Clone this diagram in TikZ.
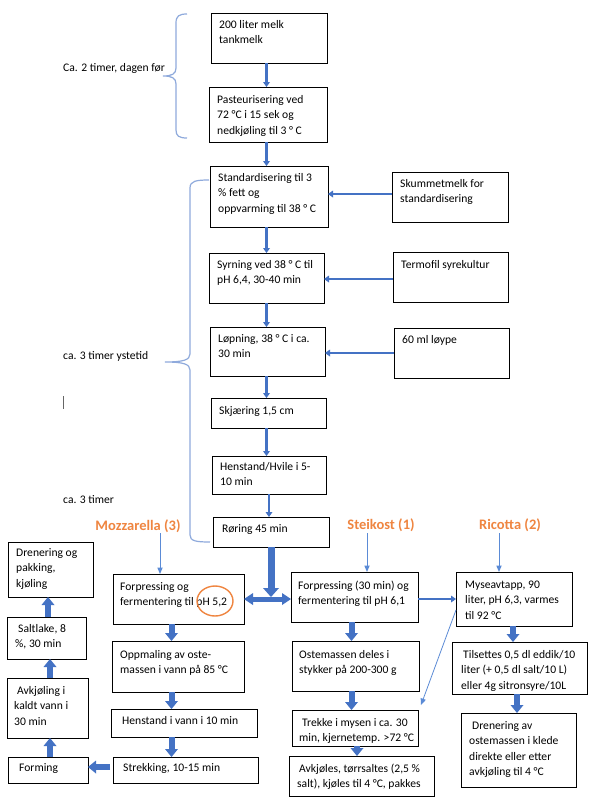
\documentclass[tikz,border=0pt]{standalone}
\usepackage{fontspec}
\setmainfont{Carlito}
\usetikzlibrary{arrows.meta,shapes.geometric}
\definecolor{ablue}{HTML}{4472C4}
\definecolor{lblue}{HTML}{5B8BD6}
\definecolor{bblue}{HTML}{8FAADC}
\definecolor{ormain}{HTML}{EF8540}
\newcommand\flowbox[5]{\node[box,minimum width={#4-#2},minimum height={#5-#3}] (#1) at (#2,#3) {};}
\newcommand\flowtext[4]{\node[txt] (#1) at (#2,{#3-10}) {\rule{0pt}{10pt}#4};}
\begin{document}
\begin{tikzpicture}[x=1pt,y=-1pt,
 box/.style={draw=black,line width=0.75pt,anchor=north west,inner sep=0pt,outer sep=0pt,rectangle},
 txt/.style={anchor=north west,inner sep=0pt,align=left,font=\fontsize{11.6}{15.5}\selectfont},
 sidetxt/.style={anchor=base west,inner sep=0pt,font=\fontsize{11.6}{15.5}\selectfont},
 otxt/.style={anchor=center,inner sep=0pt,text=ormain,font=\fontsize{14.5}{17}\selectfont\bfseries},
 thk/.style={draw=ablue,line width=2.6pt,-{Triangle[width=7pt,length=5pt,line width=0pt]}},
 blk/.style={draw=ablue,line width=6pt,-{Triangle[width=13pt,length=8pt,line width=0pt]}},
 blkbig/.style={draw=ablue,line width=7pt,-{Triangle[width=16pt,length=9pt,line width=0pt]}},
 dbl/.style={draw=ablue,line width=5pt,{Triangle[width=12pt,length=9pt,line width=0pt]}-{Triangle[width=12pt,length=9pt,line width=0pt]}},
 lbl/.style={draw=lblue,line width=0.8pt,-{Triangle[width=5.5pt,length=6.5pt,line width=0pt]}},
 brace/.style={draw=bblue,line width=1.2pt}]
\fill[white] (0,0) rectangle (590,809);
\useasboundingbox (0,0) rectangle (590,809);

% boxes
\flowbox{b1}{211}{13}{327}{63}
\flowbox{b2}{209}{87}{327}{142}
\flowbox{b3}{210}{166}{328}{227}
\flowbox{skum}{392}{172}{508}{222}
\flowbox{b4}{209}{253}{324}{303}
\flowbox{termo}{393}{252}{508}{302}
\flowbox{b5}{210}{327}{325}{376}
\flowbox{loype}{394}{328}{509}{378}
\flowbox{b6}{211}{398}{326}{428}
\flowbox{b7}{212}{456}{326}{494}
\flowbox{b8}{213}{517}{329}{547}
\flowbox{m1}{113}{574}{244}{624}
\flowbox{m2}{112}{641}{244}{692}
\flowbox{m3}{111}{709}{257}{737}
\flowbox{m4}{113}{757}{258}{783}
\flowbox{form}{8}{757}{88}{783}
\flowbox{avk}{7}{678}{88}{738}
\flowbox{salt}{7}{617}{86}{659}
\flowbox{dren}{8}{542}{93}{597}
\flowbox{s1}{291}{572}{418}{622}
\flowbox{s2}{292}{641}{419}{691}
\flowbox{s3}{292}{710}{418}{746}
\flowbox{s4}{289}{756}{434}{796}
\flowbox{r1}{456}{572}{572}{626}
\flowbox{r2}{452}{642}{587}{694}
\flowbox{r3}{461}{713}{576}{787}

% texts
\flowtext{tb1}{219}{28}{200 liter melk\\tankmelk}
\flowtext{tb2}{217}{103}{Pasteurisering ved\\72 °C i 15 sek og\\nedkjøling til 3 ° C}
\flowtext{tb3}{218}{181}{Standardisering til 3\\\% fett og\\oppvarming til 38 ° C}
\flowtext{tskum}{400}{187}{Skummetmelk for\\standardisering}
\flowtext{tb4}{217}{268}{Syrning ved 38 ° C til\\pH 6,4, 30-40 min}
\flowtext{ttermo}{401}{268}{Termofil syrekultur}
\flowtext{tb5}{218}{342}{Løpning, 38 ° C i ca.\\30 min}
\flowtext{tloype}{402}{343}{60 ml løype}
\flowtext{tb6}{219}{414}{Skjæring 1,5 cm}
\flowtext{tb7}{220}{470}{Henstand/Hvile i 5-\\10 min}
\flowtext{tb8}{222}{532}{Røring 45 min}
\flowtext{tm1}{120}{590}{Forpressing og\\fermentering til pH 5,2}
\flowtext{tm2}{120}{658}{Oppmaling av oste-\\massen i vann på 85 °C}
\flowtext{tm3}{122}{724}{Henstand i vann i 10 min}
\flowtext{tm4}{123}{771}{Strekking, 10-15 min}
\flowtext{tform}{19}{771}{Forming}
\flowtext{tavk}{14}{694}{\hspace*{3pt}Avkjøling i\\kaldt vann i\\30 min}
\flowtext{tsalt}{15}{632}{\hspace*{3pt}Saltlake, 8\\\%, 30 min}
\flowtext{tdren}{16}{556}{Drenering og\\pakking,\\kjøling}
\flowtext{ts1}{298}{589}{Forpressing (30 min) og\\fermentering til pH 6,1}
\flowtext{ts2}{299}{658}{Ostemassen deles i\\stykker på 200-300 g}
\flowtext{ts3}{299}{726}{\hspace*{3pt}Trekke i mysen i ca. 30\\min, kjernetemp. >72 °C}
\flowtext{ts4}{297}{772}{\hspace*{2pt}Avkjøles, tørrsaltes (2,5 \%\\salt), kjøles til 4 °C, pakkes}
\flowtext{tr1}{465}{588}{Myseavtapp, 90\\liter, pH 6,3, varmes\\til 92 °C}
\flowtext{tr2}{461}{658}{\hspace*{2pt}Tilsettes 0,5 dl eddik/10\\liter (+ 0,5 dl salt/10 L)\\eller 4g sitronsyre/10L}
\flowtext{tr3}{469}{729}{\hspace*{3pt}Drenering av\\ostemassen i klede\\direkte eller etter\\avkjøling til 4 °C}

% side labels
\node[sidetxt] (lab1) at (63,71) {Ca. 2 timer, dagen før};
\node[sidetxt] (lab2) at (63,359) {ca. 3 timer ystetid};
\node[sidetxt] (lab3) at (63,503) {ca. 3 timer};
\draw[black!60,line width=0.6pt] (63,396) -- (63,409);

% orange labels
\node[otxt] (mozl) at (138,526) {Mozzarella (3)};
\node[otxt] (stl) at (381,525) {Steikost (1)};
\node[otxt] (ril) at (510,525) {Ricotta (2)};
\node[draw=ormain,line width=1.4pt,ellipse,minimum width=36,minimum height=30,inner sep=0pt] (ring) at (215,601) {};

% braces
\draw[brace] (187,14) .. controls (179,14) and (176,16) .. (176,23) -- (176,68)
  .. controls (176,74) and (172,76) .. (163,76) .. controls (172,76) and (176,78) .. (176,84)
  -- (176,130) .. controls (176,136) and (179,138) .. (187,138);
\draw[brace] (209,180) .. controls (196,180) and (190,181) .. (190,188) -- (190,354)
  .. controls (190,360) and (183,362) .. (165,362) .. controls (183,362) and (190,364) .. (190,370)
  -- (190,535) .. controls (190,541) and (196,542) .. (210,542);

% columns
\coordinate (tcol) at (266.5,0);
\coordinate (mcol) at (171.5,0);
\coordinate (scol) at (351.5,0);
\coordinate (scolb) at (357,0);
\coordinate (rcol) at (513,0);
\coordinate (rcolb) at (517,0);
\coordinate (lcol) at (50,0);
\coordinate (lcolb) at (48,0);

% main column arrows
\draw[thk] (b1.south -| tcol) -- (b2.north -| tcol);
\draw[thk] (b2.south -| tcol) -- (b3.north -| tcol);
\draw[thk] (b3.south -| tcol) -- (b4.north -| tcol);
\draw[thk] (b4.south -| tcol) -- (b5.north -| tcol);
\draw[thk] (b5.south -| tcol) -- (b6.north -| tcol);
\draw[thk] (b6.south -| tcol) -- (b7.north -| tcol);
\draw[thk] (b7.south) -- (b7.south |- b8.north);
\draw[thk] ([yshift=3pt]skum.west) -- ([yshift=3pt]skum.west -| b3.east);
\draw[thk] ([yshift=-2pt]termo.west) -- ([yshift=-2pt]termo.west -| b4.east);
\draw[thk] (loype.west) -- (loype.west -| b5.east);

% split
\coordinate (tee) at (b8.south |- m1.east);
\draw[blkbig] (b8.south) -- ([yshift=2pt]tee);
\draw[dbl] (m1.east) -- (m1.east -| s1.west);
\draw[thk] ([yshift=-2pt]s1.east) -- ([yshift=-2pt]s1.east -| r1.west);

% label arrows
\coordinate (ma) at (160,533);
\coordinate (sa) at (367,533);
\coordinate (ra) at (499,533);
\draw[lbl] (ma) -- (ma |- m1.north);
\draw[lbl] (sa) -- (sa |- s1.north);
\draw[lbl] (ra) -- (ra |- r1.north);
\draw[lbl] ([yshift=-11pt]r1.west) -- ([shift={(3pt,5pt)}]s3.north east);

% mozzarella chain
\draw[blk] (m1.south -| mcol) -- (m2.north -| mcol);
\draw[blk] (m2.south -| mcol) -- (m3.north -| mcol);
\draw[blk] (m3.south -| mcol) -- (m4.north -| mcol);
\draw[blk] ([xshift=-3pt,yshift=3pt]m4.west) -- ([yshift=3pt]m4.west -| form.east);
\draw[blk] (form.north -| lcol) -- (avk.south -| lcol);
\draw[blk] (avk.north -| lcol) -- (salt.south -| lcol);
\draw[blk] (salt.north -| lcolb) -- (dren.south -| lcolb);

% steikost chain
\draw[blk] (s1.south -| scol) -- (s2.north -| scol);
\draw[blk] (s2.south -| scol) -- (s3.north -| scol);
\draw[blk] (s3.south -| scolb) -- (s4.north -| scolb);

% ricotta chain
\draw[blk] (r1.south -| rcol) -- (r2.north -| rcol);
\draw[blk] (r2.south -| rcolb) -- (r3.north -| rcolb);
\end{tikzpicture}
\end{document}
